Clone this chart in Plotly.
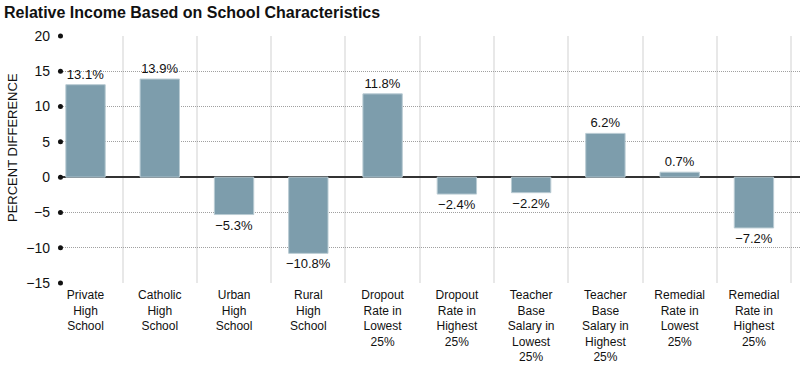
import plotly.graph_objects as go

categories = [
    "Private<br>High<br>School",
    "Catholic<br>High<br>School",
    "Urban<br>High<br>School",
    "Rural<br>High<br>School",
    "Dropout<br>Rate in<br>Lowest<br>25%",
    "Dropout<br>Rate in<br>Highest<br>25%",
    "Teacher<br>Base<br>Salary in<br>Lowest<br>25%",
    "Teacher<br>Base<br>Salary in<br>Highest<br>25%",
    "Remedial<br>Rate in<br>Lowest<br>25%",
    "Remedial<br>Rate in<br>Highest<br>25%",
]
values = [13.1, 13.9, -5.3, -10.8, 11.8, -2.4, -2.2, 6.2, 0.7, -7.2]
y_ticks = [20, 15, 10, 5, 0, -5, -10, -15]

FONT = "Liberation Sans"
BAR = "#7d9dac"

def fmt(v):
    s = f"{abs(v):.1f}%"
    return ("\u2212" + s) if v < 0 else s

fig = go.Figure()
fig.add_trace(go.Bar(
    x=categories,
    y=values,
    marker=dict(color=BAR, line=dict(color="#b9cbd3", width=1)),
    width=0.53,
    text=[fmt(v) for v in values],
    textposition="outside",
    constraintext="none",
    textfont=dict(family=FONT, size=13, color="#111"),
    cliponaxis=False,
    hoverinfo="skip",
))
# tick dots on the y axis
fig.add_trace(go.Scatter(
    x=[0] * len(y_ticks), y=y_ticks,
    xaxis="x2", yaxis="y",
    mode="markers",
    marker=dict(color="#111", size=5),
    cliponaxis=False, hoverinfo="skip",
))

fig.update_layout(
    width=800, height=373,
    margin=dict(l=59, r=0, t=36, b=90, autoexpand=False),
    paper_bgcolor="white", plot_bgcolor="white",
    showlegend=False,
    font=dict(family=FONT, size=12, color="#111"),
    title=dict(
        text="<b>Relative Income Based on School Characteristics</b>",
        font=dict(family=FONT, size=16, color="#111"),
        xref="container", yref="container",
        x=4 / 800, xanchor="left", y=1 - 12 / 373, yanchor="middle",
        pad=dict(t=0, b=0, l=0, r=0),
    ),
    xaxis=dict(
        range=[-0.357, 9.62],
        tickson="boundaries",
        showgrid=True, gridcolor="#e8e8e8", gridwidth=2,
        ticks="", showline=False, zeroline=False,
        tickfont=dict(family=FONT, size=12, color="#111"),
        ticklabelstandoff=3,
        automargin=False,
    ),
    xaxis2=dict(
        overlaying="x", range=[-0.002, 1], visible=False, fixedrange=True,
    ),
    yaxis=dict(
        range=[-15, 20],
        tickvals=y_ticks,
        showgrid=True, gridcolor="#a0a0a0", griddash="1px,1px", gridwidth=1,
        zeroline=True, zerolinecolor="#333333", zerolinewidth=1.5,
        showline=False, ticks="",
        ticklabelstandoff=8,
        tickfont=dict(family=FONT, size=14, color="#111"),
        automargin=False,
    ),
    annotations=[dict(
        text="PERCENT DIFFERENCE", textangle=-90,
        xref="paper", yref="paper",
        x=-47 / 741, y=(283 - 148) / 247,
        xanchor="center", yanchor="middle", showarrow=False,
        font=dict(family=FONT, size=13, color="#111"),
    )],
    bargap=0.47,
)

fig.write_html(
    "out.html",
    config={"displayModeBar": False},
    post_script="document.body.style.margin='0';",
)
